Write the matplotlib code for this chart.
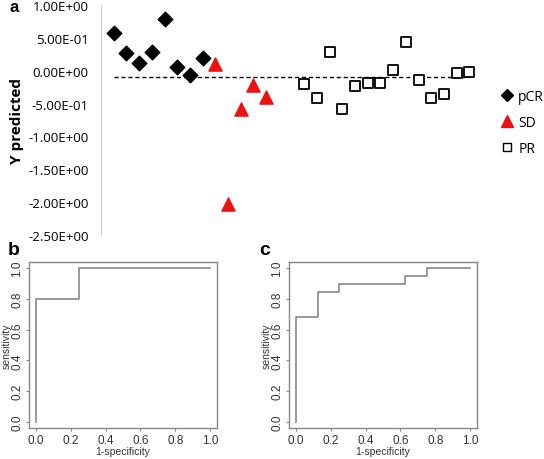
import matplotlib
matplotlib.use("Agg")
import matplotlib.pyplot as plt
from matplotlib.lines import Line2D

# ---- donnees panneau a (Y predicted par echantillon) ----
pcr_x = [1, 2, 3, 4, 5, 6, 7, 8]
pcr_y = [0.58, 0.27, 0.12, 0.29, 0.79, 0.05, -0.06, 0.20]
sd_x = [9, 10, 11, 12, 13]
sd_y = [0.10, -2.03, -0.59, -0.21, -0.40]
pr_x = [16, 17, 18, 19, 20, 21, 22, 23, 24, 25, 26, 27, 28, 29]
pr_y = [-0.20, -0.41, 0.29, -0.58, -0.24, -0.18, -0.18, 0.01, 0.44, -0.14, -0.41, -0.36, -0.03, -0.02]
seuil = -0.10
yticks_a = [1.0, 0.5, 0.0, -0.5, -1.0, -1.5, -2.0, -2.5]

# ---- courbes ROC (panneaux b et c) ----
roc_b_x = [0.0, 0.0, 0.25, 0.25, 1.0]
roc_b_y = [0.0, 0.80, 0.80, 1.0, 1.0]
roc_c_x = [0.0, 0.0, 0.125, 0.125, 0.25, 0.25, 0.625, 0.625, 0.75, 0.75, 1.0]
roc_c_y = [0.0, 0.684, 0.684, 0.842, 0.842, 0.895, 0.895, 0.947, 0.947, 1.0, 1.0]
ticks_roc = [0.0, 0.2, 0.4, 0.6, 0.8, 1.0]

W, H = 544, 460
fig = plt.figure(figsize=(W / 100, H / 100), dpi=100)


def px_axes(x0, y0, x1, y1):
    # rectangle en pixels (origine en haut a gauche)
    return fig.add_axes([x0 / W, 1 - y1 / H, (x1 - x0) / W, (y1 - y0) / H])


excel_font = "Open Sans"

# ---------------- panneau a ----------------
ax = px_axes(101, 6, 482, 236)
ax.scatter(pcr_x, pcr_y, marker="D", s=55, color="black", label="pCR", zorder=3)
ax.scatter(sd_x, sd_y, marker="^", s=90, color="#ee1111", label="SD", zorder=3)
ax.scatter(pr_x, pr_y, marker="s", s=45, facecolor="white", edgecolor="black",
           linewidths=1.3, label="PR", zorder=3)
ax.plot([1, 29], [seuil, seuil], color="black", ls=(0, (3, 2)), lw=1)
ax.set_xlim(0, 30)
ax.set_ylim(-2.5, 1.0)
ax.set_yticks(yticks_a)
ax.set_yticklabels(["%.2E" % v for v in yticks_a], fontsize=9.5, family=excel_font)
ax.set_xticks([])
for s in ["top", "right", "bottom"]:
    ax.spines[s].set_visible(False)
ax.spines["left"].set_color("#d0d0d0")
ax.tick_params(axis="y", length=0, pad=9)
ax.set_ylabel("Y predicted", fontsize=11, fontweight="bold", family=excel_font, labelpad=3)

handles = [
    Line2D([], [], marker="D", color="black", ls="none", markersize=6),
    Line2D([], [], marker="^", color="#ee1111", ls="none", markersize=9),
    Line2D([], [], marker="s", markerfacecolor="white", markeredgecolor="black",
           ls="none", markersize=6),
]
fig.legend(handles, ["pCR", "SD", "PR"], loc="upper left",
           bbox_to_anchor=(489 / W, 1 - 83 / H), frameon=False,
           prop={"family": excel_font, "size": 10}, handletextpad=0.0,
           labelspacing=0.8, handlelength=1.6, borderpad=0)

fig.text(10 / W, 1 - 12 / H, "a", fontsize=12, fontweight="bold", family="Liberation Sans")


# ---------------- panneaux b et c ----------------
def roc_panel(x0, x1, xs, ys, lettre, lx, ly):
    a = px_axes(x0, 263, x1, 429)
    a.plot(xs, ys, color="#888888", lw=1.2)
    a.set_xlim(-0.04, 1.04)
    a.set_ylim(-0.04, 1.04)
    a.set_xticks(ticks_roc)
    a.set_yticks(ticks_roc)
    a.set_xticklabels(["%.1f" % t for t in ticks_roc])
    a.set_yticklabels(["%.1f" % t for t in ticks_roc], rotation=90, va="center")
    for s in a.spines.values():
        s.set_color("#888888")
        s.set_linewidth(1.0)
    a.tick_params(length=2.5, width=0.8, color="#888888", labelsize=8.5, pad=1.5,
                  labelcolor="#333333")
    for t in a.get_xticklabels() + a.get_yticklabels():
        t.set_family("Liberation Sans")
    a.set_xlabel("1-specificity", fontsize=7.5, family="Liberation Sans", labelpad=0,
                 color="#333333")
    a.set_ylabel("sensitivity", fontsize=7.5, family="Liberation Sans", labelpad=0,
                 color="#333333")
    fig.text(lx / W, 1 - ly / H, lettre, fontsize=14, fontweight="bold",
             family="Liberation Sans")
    return a


roc_panel(29, 217, roc_b_x, roc_b_y, "b", 8, 255)
roc_panel(289, 477, roc_c_x, roc_c_y, "c", 259, 255)

fig.savefig("out.png", dpi=100)
